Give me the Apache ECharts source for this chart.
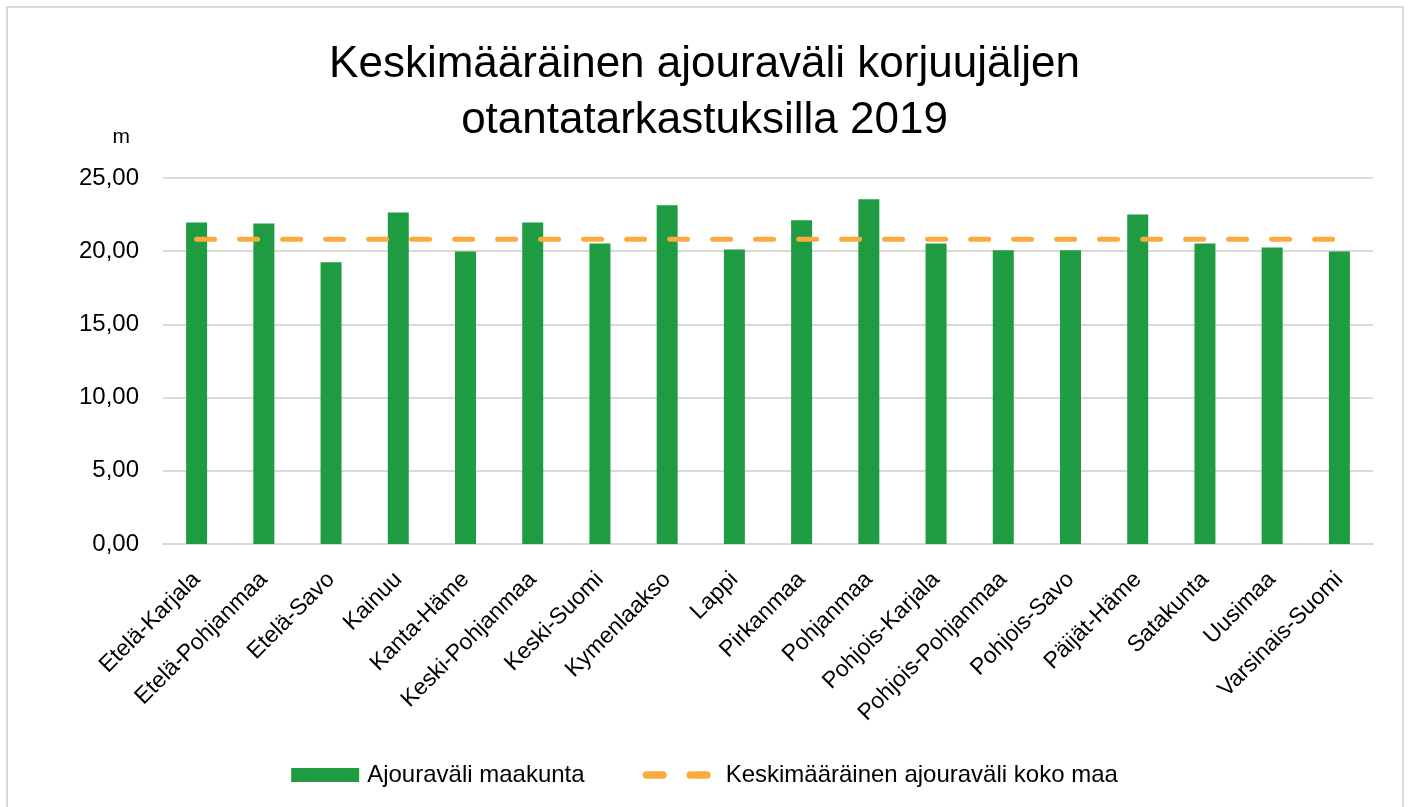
<!DOCTYPE html>
<html lang="fi">
<head>
    <meta charset="UTF-8">
    <title>Keskimääräinen ajouraväli korjuujäljen otantatarkastuksilla 2019</title>
    <style>
        html, body { margin: 0; padding: 0; background: #fff; }
        #frame { position: absolute; left: 6px; top: 6px; width: 1394px; height: 820px; border: 2px solid #d9d9d9; }
        #container { position: absolute; left: 0; top: 0; width: 1409px; height: 807px; }
    </style>
</head>
<body>
    <div id="frame"></div>
    <div id="container"></div>
    <script src="https://cdn.jsdelivr.net/npm/echarts@6/dist/echarts.min.js"></script>
    <script>
        var regions = ['Etelä-Karjala', 'Etelä-Pohjanmaa', 'Etelä-Savo', 'Kainuu', 'Kanta-Häme',
            'Keski-Pohjanmaa', 'Keski-Suomi', 'Kymenlaakso', 'Lappi', 'Pirkanmaa', 'Pohjanmaa',
            'Pohjois-Karjala', 'Pohjois-Pohjanmaa', 'Pohjois-Savo', 'Päijät-Häme', 'Satakunta',
            'Uusimaa', 'Varsinais-Suomi'];
        var maakunta = [21.96, 21.89, 19.25, 22.64, 19.98, 21.96, 20.52, 23.14, 20.11, 22.11,
            23.55, 20.52, 20.07, 20.07, 22.50, 20.52, 20.25, 19.98];
        var kokoMaa = [20.82, 20.82, 20.82, 20.82, 20.82, 20.82, 20.82, 20.82, 20.82, 20.82,
            20.82, 20.82, 20.82, 20.82, 20.82, 20.82, 20.82, 20.82];
        var yTicks = [0, 5, 10, 15, 20, 25];

        var font = "'Liberation Sans', 'DejaVu Sans', sans-serif";
        // two rounded dashes for the legend of the average line
        var dashIcon = 'path://M3.5,0 L19.5,0 A3.5,3.5 0 0 1 19.5,7 L3.5,7 A3.5,3.5 0 0 1 3.5,0 Z ' +
            'M45.5,0 L61.5,0 A3.5,3.5 0 0 1 61.5,7 L45.5,7 A3.5,3.5 0 0 1 45.5,0 Z';

        var myChart = echarts.init(document.getElementById('container'));

        var option = {
            animation: false,
            textStyle: { fontFamily: font, color: '#000' },
            title: {
                text: 'Keskimääräinen ajouraväli korjuujäljen\notantatarkastuksilla 2019',
                left: 'center',
                top: 32,
                textStyle: { fontSize: 44, fontWeight: 'normal', color: '#000', lineHeight: 56, fontFamily: font }
            },
            grid: { left: 163, right: 36, top: 178, bottom: 263, containLabel: false },
            legend: {
                bottom: 15,
                left: 'center',
                itemGap: 58,
                itemWidth: 68,
                itemHeight: 14,
                textStyle: { fontSize: 24, color: '#000', fontFamily: font, padding: [0, 0, 0, 3] },
                data: [
                    { name: 'Ajouraväli maakunta', icon: 'rect' },
                    { name: 'Keskimääräinen ajouraväli koko maa', icon: dashIcon,
                      textStyle: { padding: [0, 0, 0, 10] } }
                ]
            },
            xAxis: {
                type: 'category',
                data: regions,
                axisTick: { show: false },
                axisLine: { lineStyle: { color: '#d9d9d9', width: 2 } },
                axisLabel: { rotate: 45, fontSize: 23, color: '#000', margin: 32, interval: 0, fontFamily: font }
            },
            yAxis: {
                type: 'value',
                min: yTicks[0],
                max: yTicks[yTicks.length - 1],
                interval: 5,
                name: 'm',
                nameLocation: 'end',
                nameGap: 30,
                nameTextStyle: { fontSize: 21, color: '#000', align: 'right', padding: [0, 33, 0, 0], fontFamily: font },
                axisLine: { show: false },
                axisTick: { show: false },
                splitLine: { lineStyle: { color: '#d9d9d9', width: 2 } },
                axisLabel: {
                    fontSize: 24, color: '#000', margin: 24, fontFamily: font,
                    formatter: function (v) { return v.toFixed(2).replace('.', ','); }
                }
            },
            series: [{
                name: 'Ajouraväli maakunta',
                type: 'bar',
                data: maakunta,
                barWidth: 21,
                itemStyle: { color: '#1f9c41' }
            }, {
                name: 'Keskimääräinen ajouraväli koko maa',
                type: 'line',
                data: kokoMaa,
                symbol: 'none',
                lineStyle: { color: '#fbaa3e', width: 5, type: [18, 25], cap: 'round' },
                itemStyle: { color: '#fbaa3e' }
            }]
        };

        myChart.setOption(option);
    </script>
</body>
</html>
